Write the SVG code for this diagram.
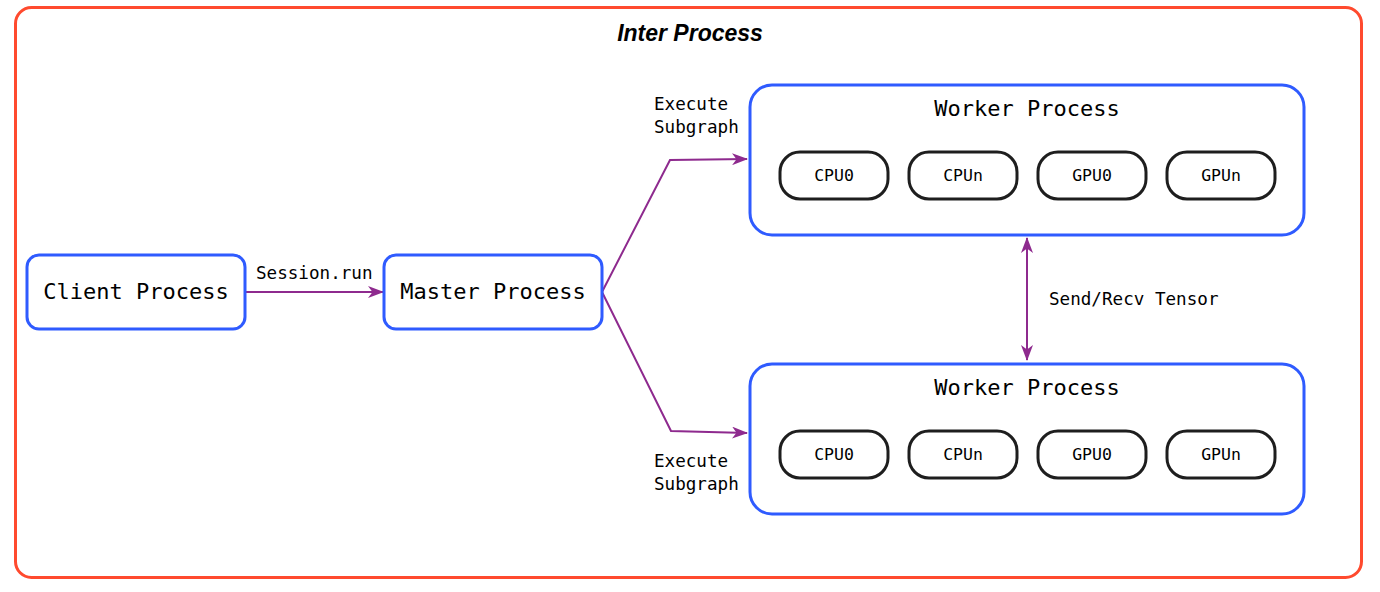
<svg xmlns="http://www.w3.org/2000/svg" width="1380" height="592" viewBox="0 0 1380 592">
<style>
.frame{fill:#fff;stroke:#ff4a2e;stroke-width:3}
.proc{fill:#fff;stroke:#2f5bff;stroke-width:3}
.dev{fill:#fff;stroke:#1e1e1e;stroke-width:3}
.conn{fill:none;stroke:#8e2a8e;stroke-width:2}
.big{font-family:"DejaVu Sans Mono","Liberation Mono",monospace;font-size:22px;fill:#000}
.lbl{font-family:"DejaVu Sans Mono","Liberation Mono",monospace;font-size:17.6px;fill:#000}
.dl{font-family:"DejaVu Sans Mono","Liberation Mono",monospace;font-size:16.5px;fill:#000}
.ttl{font-family:"Liberation Sans",Arial,sans-serif;font-size:23px;font-weight:bold;font-style:italic;fill:#000}
</style>
<defs>
<marker id="ah" viewBox="0 0 16 12" refX="15" refY="6" markerWidth="16" markerHeight="12" markerUnits="userSpaceOnUse" orient="auto-start-reverse">
<path d="M0,0 L16,6 L0,12 L4.5,6 z" fill="#8e2a8e"/>
</marker>
</defs>
<g id="inter-process">
<rect class="frame" x="15.5" y="7.5" width="1346" height="570" rx="16"/>
<text class="ttl" x="690" y="41" text-anchor="middle">Inter Process</text>
</g>
<g id="connectors">
<line class="conn" x1="245" y1="292" x2="383" y2="292" marker-end="url(#ah)"/>
<polyline class="conn" points="602,292 670,160 747,159" marker-end="url(#ah)"/>
<polyline class="conn" points="602,292 671,431 747,433" marker-end="url(#ah)"/>
<line class="conn" x1="1027" y1="238" x2="1027" y2="360" marker-start="url(#ah)" marker-end="url(#ah)"/>
<text class="lbl" x="256" y="279">Session.run</text>
<text class="lbl" x="654" y="110">Execute</text>
<text class="lbl" x="654" y="133">Subgraph</text>
<text class="lbl" x="654" y="467">Execute</text>
<text class="lbl" x="654" y="490">Subgraph</text>
<text class="lbl" x="1049" y="305">Send/Recv Tensor</text>
</g>
<g id="client">
<rect class="proc" x="27" y="255" width="218" height="74" rx="12"/>
<text class="big" x="136" y="299" text-anchor="middle">Client Process</text>
</g>
<g id="master">
<rect class="proc" x="384" y="255" width="218" height="74" rx="12"/>
<text class="big" x="493" y="299" text-anchor="middle">Master Process</text>
</g>
<g id="worker1">
<rect class="proc" x="750" y="85" width="554" height="150" rx="22"/>
<text class="big" x="1027" y="116" text-anchor="middle">Worker Process</text>
<g id="w1-cpu0"><rect class="dev" x="780" y="152" width="108" height="47" rx="20"/><text class="dl" x="834" y="181" text-anchor="middle">CPU0</text></g>
<g id="w1-cpun"><rect class="dev" x="909" y="152" width="108" height="47" rx="20"/><text class="dl" x="963" y="181" text-anchor="middle">CPUn</text></g>
<g id="w1-gpu0"><rect class="dev" x="1038" y="152" width="108" height="47" rx="20"/><text class="dl" x="1092" y="181" text-anchor="middle">GPU0</text></g>
<g id="w1-gpun"><rect class="dev" x="1167" y="152" width="108" height="47" rx="20"/><text class="dl" x="1221" y="181" text-anchor="middle">GPUn</text></g>
</g>
<g id="worker2">
<rect class="proc" x="750" y="364" width="554" height="150" rx="22"/>
<text class="big" x="1027" y="395" text-anchor="middle">Worker Process</text>
<g id="w2-cpu0"><rect class="dev" x="780" y="431" width="108" height="47" rx="20"/><text class="dl" x="834" y="460" text-anchor="middle">CPU0</text></g>
<g id="w2-cpun"><rect class="dev" x="909" y="431" width="108" height="47" rx="20"/><text class="dl" x="963" y="460" text-anchor="middle">CPUn</text></g>
<g id="w2-gpu0"><rect class="dev" x="1038" y="431" width="108" height="47" rx="20"/><text class="dl" x="1092" y="460" text-anchor="middle">GPU0</text></g>
<g id="w2-gpun"><rect class="dev" x="1167" y="431" width="108" height="47" rx="20"/><text class="dl" x="1221" y="460" text-anchor="middle">GPUn</text></g>
</g>
</svg>
